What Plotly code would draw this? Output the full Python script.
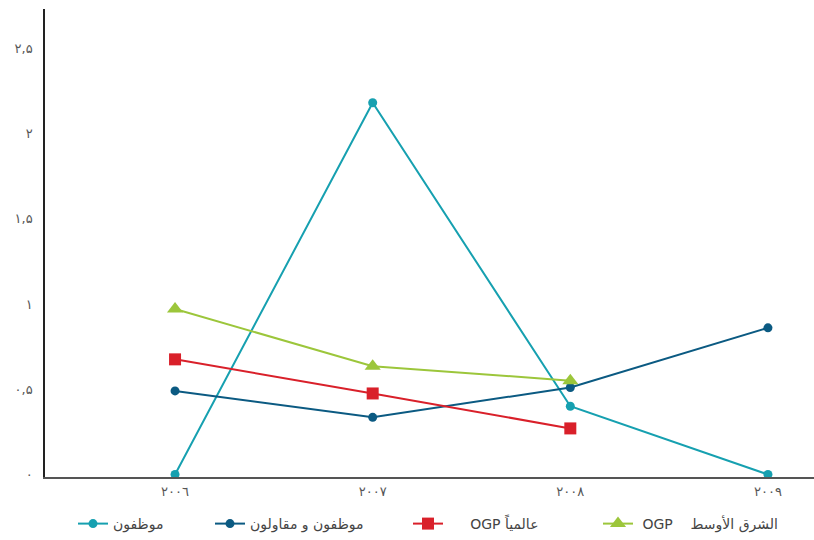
import plotly.graph_objects as go

years = [2006, 2007, 2008, 2009]
year_labels = ["٢٠٠٦", "٢٠٠٧", "٢٠٠٨", "٢٠٠٩"]

employees = [0.0, 2.18, 0.40, 0.0]
emp_contractors = [0.49, 0.335, 0.51, 0.86]
ogp_global = [0.675, 0.475, 0.27]
ogp_me = [0.97, 0.635, 0.55]

y_ticks = [0, 0.5, 1, 1.5, 2, 2.5]
y_tick_labels = ["٠", "٠,۵", "١", "١,۵", "٢", "٢,۵"]

NB = "\u00a0"
names = ["موظفون", "موظفون و مقاولون",
         NB * 5 + "OGP عالمياً",
         NB + "OGP" + NB * 4 + "الشرق الأوسط"]

font_family = "DejaVu Sans"
text_color = "#555555"

fig = go.Figure()
fig.add_trace(go.Scatter(x=years, y=employees, mode="lines+markers", name=names[0],
                         line=dict(color="#16a0b0", width=2),
                         marker=dict(symbol="circle", size=9, color="#16a0b0"),
                         legend="legend"))
fig.add_trace(go.Scatter(x=years, y=emp_contractors, mode="lines+markers", name=names[1],
                         line=dict(color="#0b5a82", width=2),
                         marker=dict(symbol="circle", size=9, color="#0b5a82"),
                         legend="legend2"))
fig.add_trace(go.Scatter(x=years[:3], y=ogp_global, mode="lines+markers", name=names[2],
                         line=dict(color="#d9202a", width=2),
                         marker=dict(symbol="square", size=12, color="#d9202a"),
                         legend="legend3"))
fig.add_trace(go.Scatter(x=years[:3], y=ogp_me, mode="lines+markers", name=names[3],
                         line=dict(color="#9cc63b", width=2),
                         marker=dict(symbol="triangle-up", size=14, color="#9cc63b"),
                         legend="legend4"))

W, L = 769, 45
def lx(px):
    return (px - L) / W

leg_common = dict(orientation="h", yanchor="middle", y=-0.1, xanchor="left",
                  font=dict(family=font_family, size=14, color="#444444"),
                  bgcolor="rgba(0,0,0,0)")

fig.update_layout(
    width=814, height=540,
    margin=dict(l=45, r=0, t=9, b=62),
    plot_bgcolor="white", paper_bgcolor="white",
    font=dict(family=font_family, size=13, color=text_color),
    showlegend=True,
    legend=dict(x=lx(73), **leg_common),
    legend2=dict(x=lx(210), **leg_common),
    legend3=dict(x=lx(408), **leg_common),
    legend4=dict(x=lx(598), **leg_common),
    xaxis=dict(range=[2005.342, 2009.233], tickvals=years, ticktext=year_labels,
               showgrid=False, zeroline=False, showline=True, linecolor="#555555",
               linewidth=1.5, ticks="", ticklabelstandoff=2, automargin=False,
               tickfont=dict(family=font_family, size=13, color=text_color)),
    yaxis=dict(range=[-0.015, 2.73], tickvals=y_ticks, ticktext=y_tick_labels,
               showgrid=False, zeroline=False, showline=True, linecolor="#222222",
               linewidth=1.5, ticks="", ticklabelstandoff=8, automargin=False,
               tickfont=dict(family=font_family, size=13, color=text_color)),
)

fig.write_html("out.html", config={"displayModeBar": False},
               post_script="document.body.style.margin='0';")
